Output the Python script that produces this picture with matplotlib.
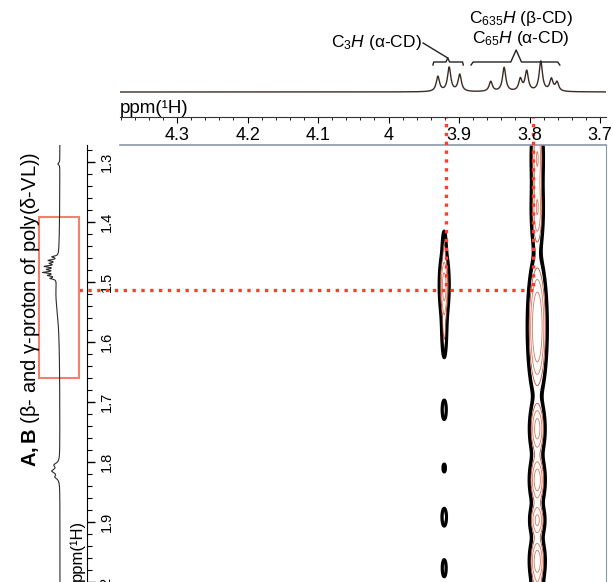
import numpy as np
import matplotlib
matplotlib.use('Agg')
import matplotlib.pyplot as plt
import matplotlib.transforms as mtransforms
from matplotlib.patches import Rectangle
from matplotlib.ticker import MultipleLocator, FuncFormatter

plt.rcParams['font.family'] = ['Liberation Sans', 'DejaVu Sans']
plt.rcParams['mathtext.fontset'] = 'custom'
plt.rcParams['mathtext.rm'] = 'Liberation Sans'
plt.rcParams['mathtext.it'] = 'Liberation Sans:italic'
plt.rcParams['mathtext.bf'] = 'Liberation Sans:bold'

# --- data -------------------------------------------------------------
# top 1D 1H spectrum: peak positions (ppm) and heights
top_ppm = [3.930, 3.914, 3.899, 3.855, 3.836, 3.813, 3.804, 3.784, 3.769, 3.761]
top_height = [15, 24, 17, 10, 24, 12, 20, 30, 12, 9]
top_hw = 0.0028

# left 1D projection: multiplet + broad hump
left_ppm = [1.458, 1.464, 1.469, 1.474, 1.479, 1.484, 1.489, 1.494,
            1.520, 1.805, 1.815, 1.825, 1.303]
left_height = [6, 9, 7, 12, 9, 13, 8, 6, 4, 5, 7, 4, 2]
left_hw = [0.0015] * 8 + [0.045, 0.004, 0.004, 0.004, 0.002]

# 2D cross peaks: (F2 ppm, F1 ppm, amplitude, sigma F2, sigma F1)
c3_f2 = [3.921, 3.921, 3.921, 3.921, 3.921, 3.921, 3.921]
c3_f1 = [1.505, 1.575, 1.440, 1.713, 1.810, 1.892, 1.977]
c3_amp = [1.0, 0.35, 0.25, 0.30, 0.18, 0.30, 0.28]
c3_sx = [0.0035, 0.0025, 0.0020, 0.0022, 0.0020, 0.0024, 0.0022]
c3_sy = [0.028, 0.035, 0.020, 0.012, 0.0074, 0.011, 0.011]

c6_f2 = [3.789] * 8
c6_f1 = [1.290, 1.380, 1.575, 1.745, 1.830, 1.897, 1.965, 2.040]
c6_amp = [0.8, 0.8, 1.4, 1.0, 1.1, 0.9, 1.1, 1.0]
c6_sx = [0.0045, 0.0045, 0.0065, 0.0055, 0.0055, 0.0055, 0.0055, 0.0055]
c6_sy = [0.035, 0.035, 0.055, 0.024, 0.022, 0.016, 0.022, 0.022]

levels = [0.12, 0.16, 0.30, 0.50, 0.80]
level_colors = ['black', 'black', '#b5533c', '#d9775a', '#d9775a']
level_widths = [2.2, 1.6, 0.6, 0.6, 0.6]

guide_x = [3.918, 3.795]
guide_y = 1.514
box_f1 = (1.392, 1.660)

xticks_f2 = [4.3, 4.2, 4.1, 4.0, 3.9, 3.8, 3.7]
yticks_f1 = [1.3, 1.4, 1.5, 1.6, 1.7, 1.8, 1.9, 2.0]

# axis ranges (ppm)
main_xlim = (4.4277, 3.6915)
top_xlim = (4.381, 3.6915)
main_ylim = (2.0, 1.2717)

W, H = 613, 582
fig = plt.figure(figsize=(W / 100, H / 100), dpi=100)

def fx(px):
    return px / W

def fy(py):
    return 1 - py / H

fmt = FuncFormatter(lambda v, p: '{:g}'.format(round(v, 3)))
frame_col = '#8898a8'
dot_col = '#ff3b2f'

# --- main 2D panel --------------------------------------------------------
ax = fig.add_axes([fx(87), 0, fx(606) - fx(87), 1 - 145 / H])
ax.set_xlim(*main_xlim)
ax.set_ylim(*main_ylim)

xg = np.linspace(main_xlim[0], main_xlim[1], 1500)
yg = np.linspace(1.25, 2.07, 1300)
Z = np.zeros((yg.size, xg.size))
for f2, f1, a, sx, sy in zip(c3_f2 + c6_f2, c3_f1 + c6_f1, c3_amp + c6_amp,
                             c3_sx + c6_sx, c3_sy + c6_sy):
    Z += a * np.outer(np.exp(-(yg - f1) ** 2 / (2 * sy ** 2)),
                      np.exp(-(xg - f2) ** 2 / (2 * sx ** 2)))
ax.contour(xg, yg, Z, levels=levels, colors=level_colors, linewidths=level_widths)

for s in ['top', 'bottom']:
    ax.spines[s].set_visible(False)
ax.spines['left'].set_color('black')
ax.spines['right'].set_color(frame_col)
trans = mtransforms.blended_transform_factory(ax.transData, ax.transAxes)
ax.plot([top_xlim[0], top_xlim[1]], [1, 1], transform=trans, color=frame_col,
        lw=1.2, clip_on=False)

ax.set_xticks([])
ax.yaxis.set_major_locator(MultipleLocator(0.1))
ax.yaxis.set_minor_locator(MultipleLocator(0.02))
ax.set_yticks(yticks_f1)
ax.yaxis.set_major_formatter(fmt)
ax.tick_params(axis='y', which='major', direction='in', length=6, width=1,
               labelsize=10.5, pad=-19, labelrotation=90)
ax.tick_params(axis='y', which='minor', direction='in', length=3.5, width=0.8)
ax.tick_params(axis='y', which='both', right=False)
plt.setp(ax.get_yticklabels(), va='center', ha='right')

# red dotted guides
top_end = main_ylim[1] - 47.5 / 600
left_end = 4.439
for gx in guide_x:
    ax.plot([gx, gx], [top_end, guide_y], color=dot_col, lw=2.4, ls=':', clip_on=False)
ax.plot([left_end, guide_x[1]], [guide_y, guide_y], color=dot_col, lw=2.4,
        ls=':', clip_on=False)

# --- top 1D spectrum ------------------------------------------------------
axt = fig.add_axes([fx(120), fy(117), fx(606) - fx(120), 117 / H])
axt.set_xlim(*top_xlim)
axt.set_ylim(-25, 92)
xs = np.linspace(top_xlim[0], top_xlim[1], 3000)
spec = np.zeros_like(xs)
for p, h in zip(top_ppm, top_height):
    spec += h / (1 + ((xs - p) / top_hw) ** 2)
axt.plot(xs, spec, color='#3b2b25', lw=1.0)
for s in ['top', 'left', 'right']:
    axt.spines[s].set_visible(False)
axt.spines['bottom'].set_color('#333333')
axt.set_yticks([])
axt.set_xticks(xticks_f2)
axt.xaxis.set_minor_locator(MultipleLocator(0.02))
axt.xaxis.set_major_formatter(fmt)
axt.tick_params(axis='x', which='major', direction='out', length=4, labelsize=13, pad=3)
axt.tick_params(axis='x', which='minor', direction='out', length=2.5)
axt.text(0, 0, 'ppm(¹H)', transform=axt.transAxes, ha='left', va='bottom', fontsize=13.5)

# brackets and labels
def bracket(x0, x1, xm, y, tip):
    d = (x0 - x1) * 0.06
    axt.plot([x0, x0 - d * 0.4, xm + d, xm, xm - d, x1 + d * 0.4, x1],
             [y - 3, y, y, y + tip, y, y, y - 3], color='#222222', lw=1)

bracket(3.937, 3.894, 3.916, 30, 4)
bracket(3.883, 3.757, 3.819, 30, 12)
axt.plot([3.951, 3.916], [49, 34], color='#222222', lw=1)
axt.text(3.953, 49, r'C$_{3}\mathit{H}$ (α-CD)', ha='right', va='center', fontsize=12.5)
axt.text(3.812, 54, r'C$_{65}\mathit{H}$ (α-CD)', ha='center', va='center', fontsize=12.5)
axt.text(3.812, 73, r'C$_{635}\mathit{H}$ (β-CD)', ha='center', va='center', fontsize=12.5)

# --- left 1D projection ---------------------------------------------------
axl = fig.add_axes([0, 0, fx(87), 1 - 145 / H], sharey=ax)
axl.set_xlim(60, -27)
ys = np.linspace(main_ylim[1], main_ylim[0] + 0.02, 3000)
proj = np.zeros_like(ys)
for p, h, w in zip(left_ppm, left_height, left_hw):
    proj += h / (1 + ((ys - p) / w) ** 2)
axl.plot(proj, ys, color='#2b2b2b', lw=0.8)
axl.axis('off')
axl.add_patch(Rectangle((-19, box_f1[0]), 40, box_f1[1] - box_f1[0], fill=False,
                        edgecolor='#f2806e', lw=1.5, clip_on=False))

fig.text(fx(31), fy(309), r'$\mathbf{A,B}$ (β- and γ-proton of poly(δ-VL))',
         rotation=90, ha='center', va='center', fontsize=14.5)
fig.text(fx(77), fy(520), 'ppm(¹H)', rotation=90, ha='center', va='top', fontsize=12)

fig.savefig('out.png', dpi=100)
